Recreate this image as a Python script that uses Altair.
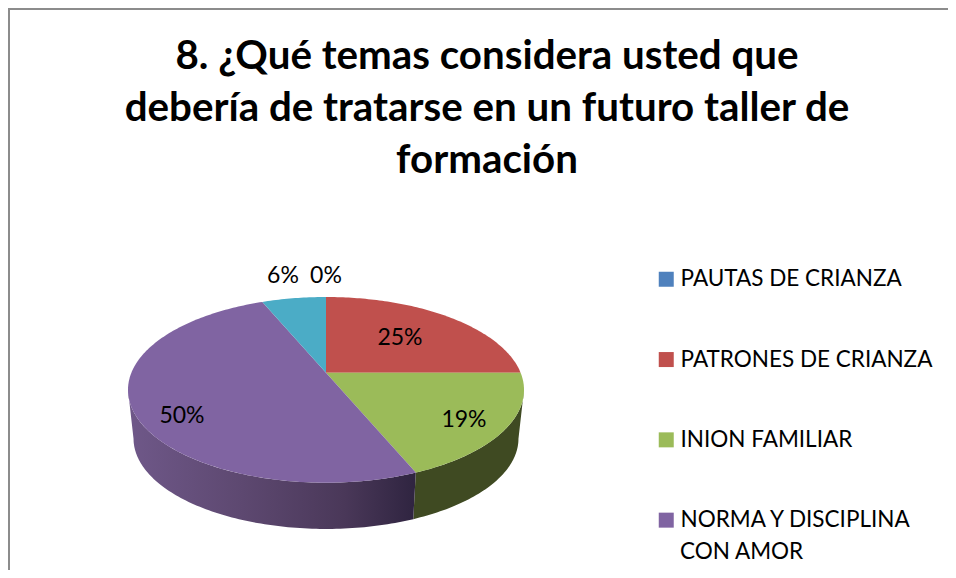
import math
import altair as alt
import pandas as pd

# ---- data
CATEGORIES = ["PAUTAS DE CRIANZA", "PATRONES DE CRIANZA", "INION FAMILIAR",
              "NORMA Y DISCIPLINA CON AMOR", "SIN LEYENDA"]
VALUES = [0, 25, 18.75, 50, 6.25]
COLORS = ["#4f81bd", "#c0504d", "#9bbb59", "#8064a2", "#4bacc6"]
TITLE_LINES = ["8. ¿Qué temas considera usted que",
               "debería de tratarse en un futuro taller de",
               "formación"]

# ---- layout (canvas pixels, page margin already removed)
W, H = 940, 562
CX, APEX_Y = 318.0, 364.7
RX, RY, K = 194.6, 89.7, 0.1847      # tilted-circle projection of the pie
BOTTOM_SCALE, BOTTOM_Y = 0.972, 414.0
LABEL_AT = {1: (392, 330), 2: (456, 412), 3: (174, 408), 4: (275, 268), 0: (318, 268)}
FONT = "Lato"


def rim(deg, s=1.0, y0=APEX_Y):
    t = math.radians(deg)
    u, v = math.sin(t), math.cos(t)
    d = 1 + K * v
    return [CX + s * RX * u / d, y0 - s * RY * v / d]


def arc(a, b, s=1.0, y0=APEX_Y):
    n = max(2, int(abs(b - a)) + 1)
    return [rim(a + (b - a) * i / n, s, y0) for i in range(n + 1)]


def feature(ring, cat):
    ring = ring + [ring[0]]
    return {"type": "Feature", "properties": {"cat": cat},
            "geometry": {"type": "Polygon", "coordinates": [ring]}}


def side(a, b):
    return feature(arc(a, b) + arc(b, a, BOTTOM_SCALE, BOTTOM_Y), "side")


total = sum(VALUES)
starts, acc = [], 0.0
for v in VALUES:
    starts.append(acc / total * 360)
    acc += v

top_feats = []
for c, v, st in zip(CATEGORIES, VALUES, starts):
    if v > 0:
        top_feats.append(feature([[CX, APEX_Y]] + arc(st, st + v / total * 360), c))

right_tan = 90 + math.degrees(math.asin(K))
left_tan = 270 - math.degrees(math.asin(K))
green_end = starts[3]

proj = alt.Projection(type="identity", scale=1, translate=[0, 0])

side_green = alt.Chart(alt.Data(values=[side(right_tan, green_end)])).mark_geoshape(
    fill="#3f4a22", strokeWidth=0).project(**proj.to_dict())
side_purple = alt.Chart(alt.Data(values=[side(green_end, left_tan)])).mark_geoshape(
    fill=alt.Gradient(gradient="linear", x1=1, x2=0, y1=0, y2=0, stops=[
        alt.GradientStop(color="#2f2440", offset=0),
        alt.GradientStop(color="#4a3859", offset=0.25),
        alt.GradientStop(color="#5d4870", offset=0.6),
        alt.GradientStop(color="#6f5889", offset=1),
    ]), strokeWidth=0).project(**proj.to_dict())

tops = alt.Chart(alt.Data(values=top_feats)).mark_geoshape(strokeWidth=0).encode(
    color=alt.Color("properties.cat:N",
                    scale=alt.Scale(domain=CATEGORIES, range=COLORS),
                    legend=alt.Legend(
                        title=None, orient="none", legendX=647, legendY=260,
                        values=CATEGORIES[:4], symbolType="square", symbolSize=225,
                        symbolStrokeWidth=0, labelFont=FONT, labelFontSize=22.5,
                        labelColor="#000000", labelLimit=400, rowPadding=57.3,
                        labelOffset=3, symbolOpacity=1,
                        labelExpr="datum.label == 'NORMA Y DISCIPLINA CON AMOR' ? 'NORMA Y DISCIPLINA' : datum.label"))
).project(**proj.to_dict())

pct = pd.DataFrame({"i": range(len(VALUES)),
                    "label": [f"{round(v / total * 100)}%" for v in VALUES]})
labels = [
    alt.Chart(pct[pct.i == i]).mark_text(font=FONT, fontSize=23, color="#000000").encode(
        x=alt.value(LABEL_AT[i][0]), y=alt.value(LABEL_AT[i][1]), text="label:N")
    for i in pct.i
]

second_line = alt.Chart(pd.DataFrame({"t": ["CON AMOR"]})).mark_text(
    font=FONT, fontSize=22.5, color="#000000", align="left").encode(
    x=alt.value(672), y=alt.value(544), text="t:N")

frame_top = alt.Chart(pd.DataFrame({"a": [0]})).mark_rule(color="#8c8c8c", strokeWidth=2).encode(
    x=alt.value(0), x2=alt.value(W), y=alt.value(1))
frame_left = alt.Chart(pd.DataFrame({"a": [0]})).mark_rule(color="#8c8c8c", strokeWidth=2).encode(
    x=alt.value(1), y=alt.value(0), y2=alt.value(H))

chart = alt.layer(side_green, side_purple, tops, *labels, second_line, frame_top, frame_left).properties(
    width=W, height=H, padding=0,
    autosize=alt.AutoSizeParams(type="none"),
    title=alt.TitleParams(text=TITLE_LINES, font=FONT, fontSize=40.3, fontWeight="bold",
                          color="#000000", anchor="middle", frame="group", lineHeight=52,
                          baseline="top", dx=9, dy=174, offset=0),
).configure_view(stroke=None)

chart.save("out.html", embed_options={"renderer": "svg", "actions": False})
